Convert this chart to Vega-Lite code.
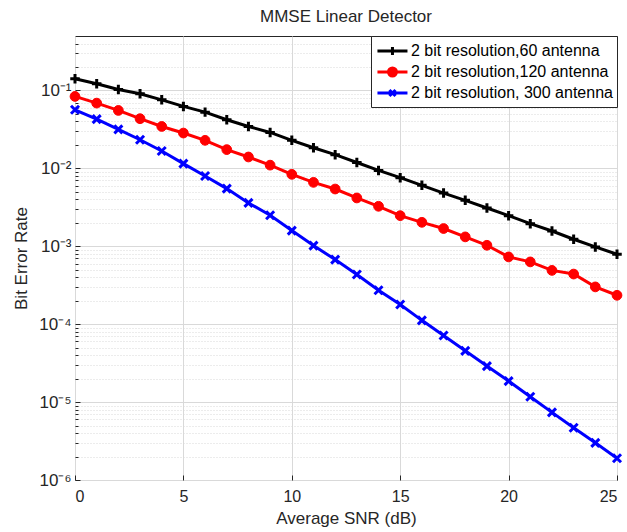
{
  "$schema": "https://vega.github.io/schema/vega-lite/v6.json",
  "width": 542,
  "height": 444,
  "autosize": {"type": "none"},
  "padding": {"left": 75, "top": 36, "right": 10, "bottom": 52},
  "background": "white",
  "title": {"text": "MMSE Linear Detector", "fontSize": 17, "fontWeight": "normal", "font": "Liberation Sans", "color": "#262626", "offset": 9},
  "config": {
    "view": {"stroke": "#262626", "strokeWidth": 1},
    "font": "Liberation Sans",
    "axis": {"labelFont": "Liberation Sans", "titleFont": "Liberation Sans", "labelColor": "#262626", "titleColor": "#262626", "titleFontWeight": "normal", "domainColor": "#262626", "tickColor": "#262626"}
  },
  "datasets": {
    "ber": [
      {"snr": 0, "ber": 0.141, "series": "2 bit resolution,60 antenna"},
      {"snr": 1, "ber": 0.122, "series": "2 bit resolution,60 antenna"},
      {"snr": 2, "ber": 0.103, "series": "2 bit resolution,60 antenna"},
      {"snr": 3, "ber": 0.0906, "series": "2 bit resolution,60 antenna"},
      {"snr": 4, "ber": 0.0758, "series": "2 bit resolution,60 antenna"},
      {"snr": 5, "ber": 0.0624, "series": "2 bit resolution,60 antenna"},
      {"snr": 6, "ber": 0.0527, "series": "2 bit resolution,60 antenna"},
      {"snr": 7, "ber": 0.0421, "series": "2 bit resolution,60 antenna"},
      {"snr": 8, "ber": 0.0345, "series": "2 bit resolution,60 antenna"},
      {"snr": 9, "ber": 0.0289, "series": "2 bit resolution,60 antenna"},
      {"snr": 10, "ber": 0.0229, "series": "2 bit resolution,60 antenna"},
      {"snr": 11, "ber": 0.0184, "series": "2 bit resolution,60 antenna"},
      {"snr": 12, "ber": 0.015, "series": "2 bit resolution,60 antenna"},
      {"snr": 13, "ber": 0.0119, "series": "2 bit resolution,60 antenna"},
      {"snr": 14, "ber": 0.0094, "series": "2 bit resolution,60 antenna"},
      {"snr": 15, "ber": 0.0076, "series": "2 bit resolution,60 antenna"},
      {"snr": 16, "ber": 0.00605, "series": "2 bit resolution,60 antenna"},
      {"snr": 17, "ber": 0.00482, "series": "2 bit resolution,60 antenna"},
      {"snr": 18, "ber": 0.00389, "series": "2 bit resolution,60 antenna"},
      {"snr": 19, "ber": 0.0031, "series": "2 bit resolution,60 antenna"},
      {"snr": 20, "ber": 0.00247, "series": "2 bit resolution,60 antenna"},
      {"snr": 21, "ber": 0.00195, "series": "2 bit resolution,60 antenna"},
      {"snr": 22, "ber": 0.00157, "series": "2 bit resolution,60 antenna"},
      {"snr": 23, "ber": 0.00123, "series": "2 bit resolution,60 antenna"},
      {"snr": 24, "ber": 0.00098, "series": "2 bit resolution,60 antenna"},
      {"snr": 25, "ber": 0.00079, "series": "2 bit resolution,60 antenna"},
      {"snr": 0, "ber": 0.0838, "series": "2 bit resolution,120 antenna"},
      {"snr": 1, "ber": 0.0688, "series": "2 bit resolution,120 antenna"},
      {"snr": 2, "ber": 0.0554, "series": "2 bit resolution,120 antenna"},
      {"snr": 3, "ber": 0.0434, "series": "2 bit resolution,120 antenna"},
      {"snr": 4, "ber": 0.0345, "series": "2 bit resolution,120 antenna"},
      {"snr": 5, "ber": 0.0284, "series": "2 bit resolution,120 antenna"},
      {"snr": 6, "ber": 0.0229, "series": "2 bit resolution,120 antenna"},
      {"snr": 7, "ber": 0.0174, "series": "2 bit resolution,120 antenna"},
      {"snr": 8, "ber": 0.014, "series": "2 bit resolution,120 antenna"},
      {"snr": 9, "ber": 0.011, "series": "2 bit resolution,120 antenna"},
      {"snr": 10, "ber": 0.00838, "series": "2 bit resolution,120 antenna"},
      {"snr": 11, "ber": 0.00661, "series": "2 bit resolution,120 antenna"},
      {"snr": 12, "ber": 0.00543, "series": "2 bit resolution,120 antenna"},
      {"snr": 13, "ber": 0.00417, "series": "2 bit resolution,120 antenna"},
      {"snr": 14, "ber": 0.00326, "series": "2 bit resolution,120 antenna"},
      {"snr": 15, "ber": 0.00247, "series": "2 bit resolution,120 antenna"},
      {"snr": 16, "ber": 0.00203, "series": "2 bit resolution,120 antenna"},
      {"snr": 17, "ber": 0.00169, "series": "2 bit resolution,120 antenna"},
      {"snr": 18, "ber": 0.00132, "series": "2 bit resolution,120 antenna"},
      {"snr": 19, "ber": 0.00103, "series": "2 bit resolution,120 antenna"},
      {"snr": 20, "ber": 0.00073, "series": "2 bit resolution,120 antenna"},
      {"snr": 21, "ber": 0.00063, "series": "2 bit resolution,120 antenna"},
      {"snr": 22, "ber": 0.00049, "series": "2 bit resolution,120 antenna"},
      {"snr": 23, "ber": 0.00044, "series": "2 bit resolution,120 antenna"},
      {"snr": 24, "ber": 0.000301, "series": "2 bit resolution,120 antenna"},
      {"snr": 25, "ber": 0.000235, "series": "2 bit resolution,120 antenna"},
      {"snr": 0, "ber": 0.0565, "series": "2 bit resolution, 300 antenna"},
      {"snr": 1, "ber": 0.0429, "series": "2 bit resolution, 300 antenna"},
      {"snr": 2, "ber": 0.0316, "series": "2 bit resolution, 300 antenna"},
      {"snr": 3, "ber": 0.0233, "series": "2 bit resolution, 300 antenna"},
      {"snr": 4, "ber": 0.0167, "series": "2 bit resolution, 300 antenna"},
      {"snr": 5, "ber": 0.0115, "series": "2 bit resolution, 300 antenna"},
      {"snr": 6, "ber": 0.00798, "series": "2 bit resolution, 300 antenna"},
      {"snr": 7, "ber": 0.0055, "series": "2 bit resolution, 300 antenna"},
      {"snr": 8, "ber": 0.0036, "series": "2 bit resolution, 300 antenna"},
      {"snr": 9, "ber": 0.0025, "series": "2 bit resolution, 300 antenna"},
      {"snr": 10, "ber": 0.00159, "series": "2 bit resolution, 300 antenna"},
      {"snr": 11, "ber": 0.00102, "series": "2 bit resolution, 300 antenna"},
      {"snr": 12, "ber": 0.000675, "series": "2 bit resolution, 300 antenna"},
      {"snr": 13, "ber": 0.000434, "series": "2 bit resolution, 300 antenna"},
      {"snr": 14, "ber": 0.000273, "series": "2 bit resolution, 300 antenna"},
      {"snr": 15, "ber": 0.000179, "series": "2 bit resolution, 300 antenna"},
      {"snr": 16, "ber": 0.000112, "series": "2 bit resolution, 300 antenna"},
      {"snr": 17, "ber": 0.0000716, "series": "2 bit resolution, 300 antenna"},
      {"snr": 18, "ber": 0.0000455, "series": "2 bit resolution, 300 antenna"},
      {"snr": 19, "ber": 0.000029, "series": "2 bit resolution, 300 antenna"},
      {"snr": 20, "ber": 0.0000186, "series": "2 bit resolution, 300 antenna"},
      {"snr": 21, "ber": 0.0000117, "series": "2 bit resolution, 300 antenna"},
      {"snr": 22, "ber": 0.00000738, "series": "2 bit resolution, 300 antenna"},
      {"snr": 23, "ber": 0.00000469, "series": "2 bit resolution, 300 antenna"},
      {"snr": 24, "ber": 0.000003, "series": "2 bit resolution, 300 antenna"},
      {"snr": 25, "ber": 0.0000019, "series": "2 bit resolution, 300 antenna"}
    ]
  },
  "data": {"name": "ber"},
  "encoding": {
    "x": {
      "field": "snr", "type": "quantitative",
      "scale": {"domain": [0, 25], "nice": false, "zero": false},
      "axis": {
        "title": "Average SNR (dB)", "titleFontSize": 17, "titlePadding": 6,
        "values": [0, 5, 10, 15, 20, 25], "labelFontSize": 16, "labelPadding": 13,
        "tickSize": -5, "grid": true, "gridColor": "#d9d9d9", "gridWidth": 1, "domain": false
      }
    },
    "y": {
      "field": "ber", "type": "quantitative",
      "scale": {"type": "log", "domain": [0.000001, 0.5], "nice": false},
      "axis": {
        "title": "Bit Error Rate", "titleFontSize": 17, "titlePadding": 8,
        "values": [0.000001, 0.000002, 0.000003, 0.000004, 0.000005, 0.000006, 0.000007, 0.000008, 0.000009,
                   0.00001, 0.00002, 0.00003, 0.00004, 0.00005, 0.00006, 0.00007, 0.00008, 0.00009,
                   0.0001, 0.0002, 0.0003, 0.0004, 0.0005, 0.0006, 0.0007, 0.0008, 0.0009,
                   0.001, 0.002, 0.003, 0.004, 0.005, 0.006, 0.007, 0.008, 0.009,
                   0.01, 0.02, 0.03, 0.04, 0.05, 0.06, 0.07, 0.08, 0.09,
                   0.1, 0.2, 0.3, 0.4],
        "labelExpr": "abs(log(datum.value)/LN10 - round(log(datum.value)/LN10)) < 0.000001 ? '10' + ['⁻⁶','⁻⁵','⁻⁴','⁻³','⁻²','⁻¹','⁰'][round(log(datum.value)/LN10)+6] : ''",
        "labelFontSize": 17, "labelPadding": 9, "labelOverlap": false, "labelBound": false, "labelFlush": false,
        "domain": false,
        "grid": true,
        "gridColor": "#d9d9d9",
        "gridDash": {"condition": {"test": "abs(log(datum.value)/LN10 - round(log(datum.value)/LN10)) < 0.000001", "value": []}, "value": [1, 2]},
        "tickSize": {"condition": {"test": "abs(log(datum.value)/LN10 - round(log(datum.value)/LN10)) < 0.000001", "value": -5}, "value": -3}
      }
    }
  },
  "layer": [
    {
      "mark": {"type": "line", "strokeWidth": 3},
      "encoding": {
        "color": {
          "field": "series", "type": "nominal",
          "scale": {"domain": ["2 bit resolution,60 antenna", "2 bit resolution,120 antenna", "2 bit resolution, 300 antenna"], "range": ["#000000", "#ff0000", "#0000ff"]},
          "legend": {
            "title": null, "orient": "top-right", "offset": 0,
            "strokeColor": "#262626", "fillColor": "white", "padding": 4,
            "labelFont": "Liberation Sans", "labelFontSize": 16, "labelColor": "#000000", "labelLimit": 400,
            "symbolSize": 361, "rowPadding": 0, "labelOffset": 14,
            "symbolStrokeWidth": 3,
            "encode": {
              "symbols": {
                "update": {
                  "shape": {"signal": "datum.value === '2 bit resolution,60 antenna' ? 'M-0.9,0H2.26M0.68,-0.42V0.42' : datum.value === '2 bit resolution,120 antenna' ? 'M-0.9,0H2.26M0.26,0A0.42,0.42 0 1,1 1.1,0A0.42,0.42 0 1,1 0.26,0Z' : 'M-0.9,0H2.26M0.36,-0.32L1,0.32M0.36,0.32L1,-0.32'"},
                  "fill": {"signal": "datum.value === '2 bit resolution,120 antenna' ? '#ff0000' : 'transparent'"},
                  "stroke": {"signal": "datum.value === '2 bit resolution,60 antenna' ? '#000000' : datum.value === '2 bit resolution,120 antenna' ? '#ff0000' : '#0000ff'"},
                  "strokeWidth": {"value": 3},
                  "opacity": {"value": 1}
                }
              }
            }
          }
        }
      }
    },
    {
      "transform": [{"filter": "datum.series === '2 bit resolution,60 antenna'"}],
      "mark": {"type": "point", "shape": "M-1,0H1M0,-1V1", "size": 90, "stroke": "#000000", "strokeWidth": 3, "filled": false, "opacity": 1}
    },
    {
      "transform": [{"filter": "datum.series === '2 bit resolution,120 antenna'"}],
      "mark": {"type": "point", "shape": "circle", "size": 95, "fill": "#ff0000", "stroke": "#ff0000", "strokeWidth": 1, "filled": true, "opacity": 1}
    },
    {
      "transform": [{"filter": "datum.series === '2 bit resolution, 300 antenna'"}],
      "mark": {"type": "point", "shape": "M-0.8,-0.8L0.8,0.8M-0.8,0.8L0.8,-0.8", "size": 100, "stroke": "#0000ff", "strokeWidth": 3, "filled": false, "opacity": 1}
    }
  ]
}
